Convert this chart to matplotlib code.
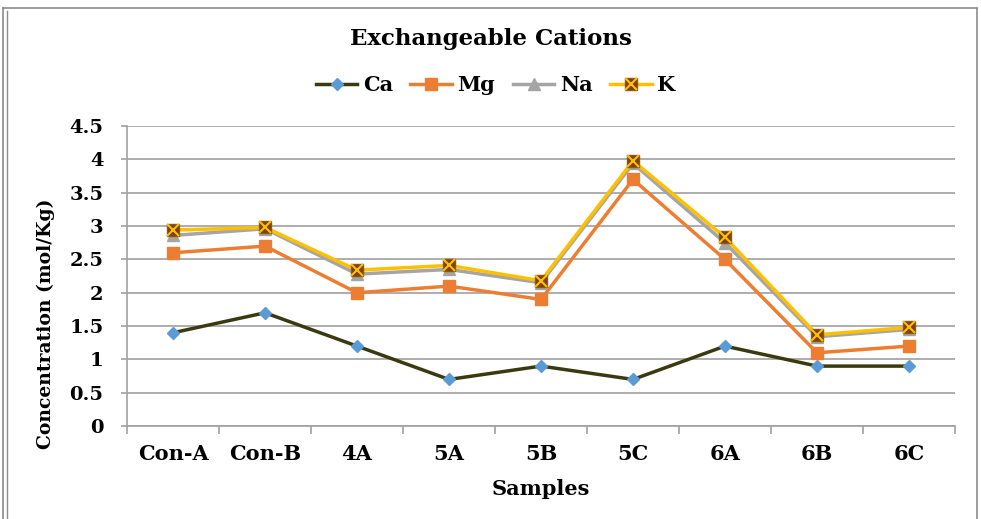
import matplotlib.pyplot as plt
from matplotlib.lines import Line2D
from matplotlib.legend_handler import HandlerTuple

samples = ['Con-A', 'Con-B', '4A', '5A', '5B', '5C', '6A', '6B', '6C']
ca = [1.4, 1.7, 1.2, 0.7, 0.9, 0.7, 1.2, 0.9, 0.9]
mg = [2.6, 2.7, 2.0, 2.1, 1.9, 3.7, 2.5, 1.1, 1.2]
na = [2.86, 2.96, 2.28, 2.35, 2.15, 3.94, 2.75, 1.34, 1.45]
k = [2.94, 2.98, 2.34, 2.41, 2.18, 3.98, 2.83, 1.37, 1.48]
yticks = [0, 0.5, 1, 1.5, 2, 2.5, 3, 3.5, 4, 4.5]
ytick_labels = ['0', '0.5', '1', '1.5', '2', '2.5', '3', '3.5', '4', '4.5']

plt.rcParams['font.family'] = ['DejaVu Serif']

fig = plt.figure(figsize=(9.81, 5.19), dpi=100)
ax = fig.add_axes([0.1295, 0.179, 0.844, 0.578])

x = list(range(len(samples)))

ax.plot(x, ca, color='#3a3a10', lw=2.5, marker='D', ms=6, mfc='#5b9bd5', mec='#5b9bd5', zorder=3)
ax.plot(x, mg, color='#ed7d31', lw=2.5, marker='s', ms=8, mfc='#ed7d31', mec='#ed7d31', zorder=3)
ax.plot(x, na, color='#a5a5a5', lw=2.5, marker='^', ms=8, mfc='#a5a5a5', mec='#a5a5a5', zorder=3)
k_line, = ax.plot(x, k, color='#ffc000', lw=2.5, marker='s', ms=9, mfc='#7f3f00', mec='#8a5a10', zorder=4)
k_x, = ax.plot(x, k, ls='none', marker='x', ms=8, mew=1.5, color='#ffc000', zorder=5)

ax.set_xlim(-0.5, len(samples) - 0.5)
ax.set_ylim(0, 4.5)
ax.set_yticks(yticks)
ax.set_yticklabels(ytick_labels, fontsize=14, fontweight='bold')
ax.set_xticks(x)
ax.set_xticklabels(samples, fontsize=15, fontweight='bold')
ax.tick_params(axis='x', length=0, pad=13)
ax.tick_params(axis='y', length=4, color='#a0a0a0', width=1.2, pad=13)
# tick marks between categories
ax.set_xticks([i + 0.5 for i in x[:-1]] + [-0.5, len(samples) - 0.5], minor=True)
ax.tick_params(axis='x', which='minor', length=6, color='#a0a0a0', width=1.2)

ax.grid(axis='y', color='#a0a0a0', lw=1.2)
ax.set_axisbelow(True)
for s in ['top', 'right']:
    ax.spines[s].set_visible(False)
for s in ['left', 'bottom']:
    ax.spines[s].set_color('#a0a0a0')
    ax.spines[s].set_linewidth(1.2)

ax.set_xlabel('Samples', fontsize=15, fontweight='bold')
ax.xaxis.set_label_coords(0.5, -0.175)
ax.set_ylabel('Concentration (mol/Kg)', fontsize=13.5, fontweight='bold')
ax.yaxis.set_label_coords(-0.087, 0.34)

fig.text(0.5, 0.924, 'Exchangeable Cations', ha='center', va='center', fontsize=16.5, fontweight='bold')

handles = [ax.lines[0], ax.lines[1], ax.lines[2], (k_line, k_x)]
fig.legend(handles, ['Ca', 'Mg', 'Na', 'K'], loc='center', bbox_to_anchor=(0.505, 0.836), ncol=4,
           frameon=False, prop={'size': 15, 'weight': 'bold'}, handlelength=2.0, columnspacing=0.85,
           handletextpad=0.25, handler_map={tuple: HandlerTuple(ndivide=1)})

# outer chart border (double line on the left)
bc = '#8c8c8c'
fig.add_artist(Line2D([3 / 981, 977 / 981], [1 - 8 / 519] * 2, transform=fig.transFigure, color=bc, lw=1.2))
fig.add_artist(Line2D([977 / 981] * 2, [0, 1 - 8 / 519], transform=fig.transFigure, color=bc, lw=1.2))
fig.add_artist(Line2D([3 / 981] * 2, [0, 1 - 8 / 519], transform=fig.transFigure, color=bc, lw=1.2))
fig.add_artist(Line2D([7 / 981] * 2, [0, 1 - 11 / 519], transform=fig.transFigure, color=bc, lw=1.0))

fig.savefig('out.png', dpi=100)
